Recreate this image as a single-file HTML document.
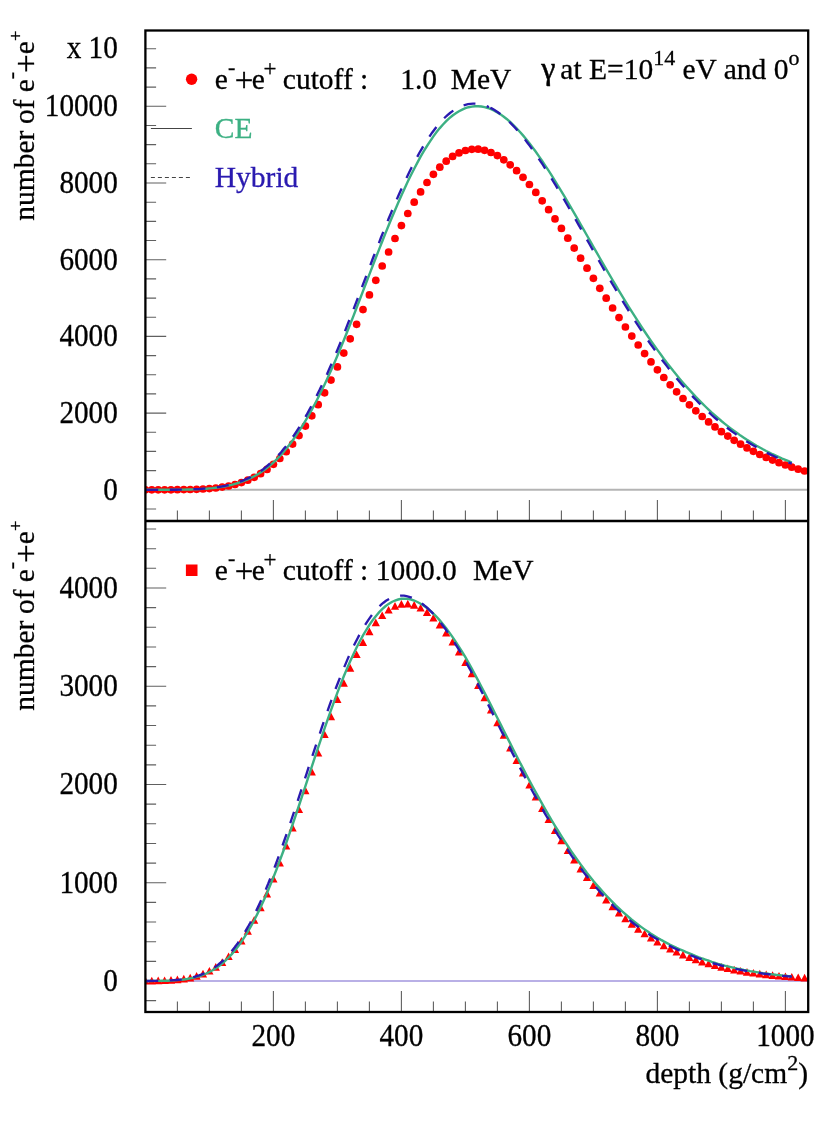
<!DOCTYPE html><html><head><meta charset="utf-8"><style>html,body{margin:0;padding:0;background:#fff}body{width:830px;height:1147px;position:relative;overflow:hidden}</style></head><body><svg width="830" height="1147" viewBox="0 0 830 1147" style="position:absolute;left:0;top:0;will-change:transform">
<rect width="830" height="1147" fill="#fff"/>
<defs><clipPath id="cu"><rect x="145.4" y="30.5" width="662.8000000000001" height="490.5"/></clipPath><clipPath id="cl"><rect x="145.4" y="521.0" width="662.8000000000001" height="491.0"/></clipPath></defs>
<line x1="145.4" x2="808.2" y1="489.8" y2="489.8" stroke="#b4b4b4" stroke-width="1.9"/>
<line x1="145.4" x2="808.2" y1="981" y2="981" stroke="#b9b0e6" stroke-width="1.9"/>
<path d="M145.4,509.0h10.7 M145.4,489.8h20.8 M145.4,470.6h10.7 M145.4,451.4h10.7 M145.4,432.3h10.7 M145.4,413.1h20.8 M145.4,393.9h10.7 M145.4,374.8h10.7 M145.4,355.6h10.7 M145.4,336.4h20.8 M145.4,317.2h10.7 M145.4,298.1h10.7 M145.4,278.9h10.7 M145.4,259.7h20.8 M145.4,240.5h10.7 M145.4,221.4h10.7 M145.4,202.2h10.7 M145.4,183.0h20.8 M145.4,163.8h10.7 M145.4,144.6h10.7 M145.4,125.5h10.7 M145.4,106.3h20.8 M145.4,87.1h10.7 M145.4,67.9h10.7 M145.4,48.8h10.7 M145.4,1000.6h10.7 M145.4,981.0h20.8 M145.4,961.4h10.7 M145.4,941.7h10.7 M145.4,922.0h10.7 M145.4,902.4h10.7 M145.4,882.8h20.8 M145.4,863.1h10.7 M145.4,843.5h10.7 M145.4,823.8h10.7 M145.4,804.1h10.7 M145.4,784.5h20.8 M145.4,764.9h10.7 M145.4,745.2h10.7 M145.4,725.5h10.7 M145.4,705.9h10.7 M145.4,686.2h20.8 M145.4,666.6h10.7 M145.4,647.0h10.7 M145.4,627.3h10.7 M145.4,607.6h10.7 M145.4,588.0h20.8 M145.4,568.3h10.7 M145.4,548.7h10.7 M145.4,529.0h10.7 M177.4,521.0v-10.5 M177.4,1012.0v-10.5 M209.4,521.0v-10.5 M209.4,1012.0v-10.5 M241.4,521.0v-10.5 M241.4,1012.0v-10.5 M273.4,521.0v-21 M273.4,1012.0v-21 M305.4,521.0v-10.5 M305.4,1012.0v-10.5 M337.4,521.0v-10.5 M337.4,1012.0v-10.5 M369.4,521.0v-10.5 M369.4,1012.0v-10.5 M401.4,521.0v-21 M401.4,1012.0v-21 M433.4,521.0v-10.5 M433.4,1012.0v-10.5 M465.4,521.0v-10.5 M465.4,1012.0v-10.5 M497.4,521.0v-10.5 M497.4,1012.0v-10.5 M529.4,521.0v-21 M529.4,1012.0v-21 M561.4,521.0v-10.5 M561.4,1012.0v-10.5 M593.4,521.0v-10.5 M593.4,1012.0v-10.5 M625.4,521.0v-10.5 M625.4,1012.0v-10.5 M657.4,521.0v-21 M657.4,1012.0v-21 M689.4,521.0v-10.5 M689.4,1012.0v-10.5 M721.4,521.0v-10.5 M721.4,1012.0v-10.5 M753.4,521.0v-10.5 M753.4,1012.0v-10.5 M785.4,521.0v-21 M785.4,1012.0v-21" stroke="#606060" stroke-width="1.1" fill="none"/>
<g fill="#ff0000" clip-path="url(#cu)"><circle cx="145.4" cy="489.8" r="3.85"/><circle cx="151.8" cy="489.8" r="3.85"/><circle cx="158.2" cy="489.8" r="3.85"/><circle cx="164.6" cy="489.8" r="3.85"/><circle cx="171.0" cy="489.8" r="3.85"/><circle cx="177.4" cy="489.7" r="3.85"/><circle cx="183.8" cy="489.6" r="3.85"/><circle cx="190.2" cy="489.5" r="3.85"/><circle cx="196.6" cy="489.3" r="3.85"/><circle cx="203.0" cy="489.0" r="3.85"/><circle cx="209.4" cy="488.6" r="3.85"/><circle cx="215.8" cy="488.0" r="3.85"/><circle cx="222.2" cy="487.1" r="3.85"/><circle cx="228.6" cy="486.0" r="3.85"/><circle cx="235.0" cy="484.5" r="3.85"/><circle cx="241.4" cy="482.6" r="3.85"/><circle cx="247.8" cy="480.2" r="3.85"/><circle cx="254.2" cy="477.3" r="3.85"/><circle cx="260.6" cy="473.7" r="3.85"/><circle cx="267.0" cy="469.4" r="3.85"/><circle cx="273.4" cy="464.3" r="3.85"/><circle cx="279.8" cy="458.5" r="3.85"/><circle cx="286.2" cy="451.7" r="3.85"/><circle cx="292.6" cy="444.1" r="3.85"/><circle cx="299.0" cy="435.6" r="3.85"/><circle cx="305.4" cy="426.1" r="3.85"/><circle cx="311.8" cy="415.8" r="3.85"/><circle cx="318.2" cy="404.7" r="3.85"/><circle cx="324.6" cy="392.8" r="3.85"/><circle cx="331.0" cy="380.1" r="3.85"/><circle cx="337.4" cy="366.9" r="3.85"/><circle cx="343.8" cy="353.1" r="3.85"/><circle cx="350.2" cy="338.8" r="3.85"/><circle cx="356.6" cy="324.3" r="3.85"/><circle cx="363.0" cy="309.6" r="3.85"/><circle cx="369.4" cy="294.9" r="3.85"/><circle cx="375.8" cy="280.3" r="3.85"/><circle cx="382.2" cy="266.0" r="3.85"/><circle cx="388.6" cy="252.0" r="3.85"/><circle cx="395.0" cy="238.5" r="3.85"/><circle cx="401.4" cy="225.6" r="3.85"/><circle cx="407.8" cy="213.5" r="3.85"/><circle cx="414.2" cy="202.2" r="3.85"/><circle cx="420.6" cy="191.9" r="3.85"/><circle cx="427.0" cy="182.5" r="3.85"/><circle cx="433.4" cy="174.3" r="3.85"/><circle cx="439.8" cy="167.2" r="3.85"/><circle cx="446.2" cy="161.2" r="3.85"/><circle cx="452.6" cy="156.4" r="3.85"/><circle cx="459.0" cy="152.9" r="3.85"/><circle cx="465.4" cy="150.5" r="3.85"/><circle cx="471.8" cy="149.3" r="3.85"/><circle cx="478.2" cy="149.2" r="3.85"/><circle cx="484.6" cy="150.3" r="3.85"/><circle cx="491.0" cy="152.5" r="3.85"/><circle cx="497.4" cy="155.6" r="3.85"/><circle cx="503.8" cy="159.8" r="3.85"/><circle cx="510.2" cy="164.8" r="3.85"/><circle cx="516.6" cy="170.7" r="3.85"/><circle cx="523.0" cy="177.3" r="3.85"/><circle cx="529.4" cy="184.5" r="3.85"/><circle cx="535.8" cy="192.4" r="3.85"/><circle cx="542.2" cy="200.8" r="3.85"/><circle cx="548.6" cy="209.7" r="3.85"/><circle cx="555.0" cy="218.9" r="3.85"/><circle cx="561.4" cy="228.4" r="3.85"/><circle cx="567.8" cy="238.2" r="3.85"/><circle cx="574.2" cy="248.1" r="3.85"/><circle cx="580.6" cy="258.2" r="3.85"/><circle cx="587.0" cy="268.2" r="3.85"/><circle cx="593.4" cy="278.3" r="3.85"/><circle cx="599.8" cy="288.3" r="3.85"/><circle cx="606.2" cy="298.2" r="3.85"/><circle cx="612.6" cy="308.0" r="3.85"/><circle cx="619.0" cy="317.6" r="3.85"/><circle cx="625.4" cy="327.0" r="3.85"/><circle cx="631.8" cy="336.1" r="3.85"/><circle cx="638.2" cy="345.0" r="3.85"/><circle cx="644.6" cy="353.6" r="3.85"/><circle cx="651.0" cy="361.9" r="3.85"/><circle cx="657.4" cy="369.8" r="3.85"/><circle cx="663.8" cy="377.5" r="3.85"/><circle cx="670.2" cy="384.8" r="3.85"/><circle cx="676.6" cy="391.8" r="3.85"/><circle cx="683.0" cy="398.5" r="3.85"/><circle cx="689.4" cy="404.8" r="3.85"/><circle cx="695.8" cy="410.8" r="3.85"/><circle cx="702.2" cy="416.5" r="3.85"/><circle cx="708.6" cy="421.9" r="3.85"/><circle cx="715.0" cy="426.9" r="3.85"/><circle cx="721.4" cy="431.7" r="3.85"/><circle cx="727.8" cy="436.1" r="3.85"/><circle cx="734.2" cy="440.3" r="3.85"/><circle cx="740.6" cy="444.2" r="3.85"/><circle cx="747.0" cy="447.9" r="3.85"/><circle cx="753.4" cy="451.3" r="3.85"/><circle cx="759.8" cy="454.5" r="3.85"/><circle cx="766.2" cy="457.4" r="3.85"/><circle cx="772.6" cy="460.1" r="3.85"/><circle cx="779.0" cy="462.7" r="3.85"/><circle cx="785.4" cy="465.0" r="3.85"/><circle cx="791.8" cy="467.2" r="3.85"/><circle cx="798.2" cy="469.2" r="3.85"/><circle cx="804.6" cy="471.0" r="3.85"/></g>
<path d="M145.4,489.8 L148.6,489.8 L151.8,489.8 L155.0,489.8 L158.2,489.8 L161.4,489.8 L164.6,489.8 L167.8,489.8 L171.0,489.7 L174.2,489.7 L177.4,489.7 L180.6,489.6 L183.8,489.6 L187.0,489.5 L190.2,489.5 L193.4,489.4 L196.6,489.2 L199.8,489.1 L203.0,488.9 L206.2,488.7 L209.4,488.4 L212.6,488.1 L215.8,487.7 L219.0,487.3 L222.2,486.7 L225.4,486.2 L228.6,485.5 L231.8,484.8 L235.0,483.9 L238.2,483.0 L241.4,481.9 L244.6,480.7 L247.8,479.4 L251.0,477.9 L254.2,476.3 L257.4,474.5 L260.6,472.6 L263.8,470.4 L267.0,467.9 L270.2,465.3 L273.4,462.5 L276.6,459.4 L279.8,456.1 L283.0,452.6 L286.2,448.8 L289.4,444.8 L292.6,440.5 L295.8,436.0 L299.0,431.2 L302.2,426.2 L305.4,420.9 L308.6,415.4 L311.8,409.7 L315.0,403.7 L318.2,397.5 L321.4,391.0 L324.6,384.4 L327.8,377.5 L331.0,370.5 L334.2,363.2 L337.4,355.8 L340.6,348.1 L343.8,340.3 L347.0,332.3 L350.2,324.2 L353.4,316.1 L356.6,307.8 L359.8,299.5 L363.0,291.1 L366.2,282.8 L369.4,274.4 L372.6,266.1 L375.8,257.8 L379.0,249.6 L382.2,241.5 L385.4,233.4 L388.6,225.5 L391.8,217.8 L395.0,210.2 L398.2,202.7 L401.4,195.5 L404.6,188.4 L407.8,181.6 L411.0,175.0 L414.2,168.7 L417.4,162.6 L420.6,156.7 L423.8,151.2 L427.0,146.0 L430.2,141.1 L433.4,136.4 L436.6,132.1 L439.8,128.1 L443.0,124.5 L446.2,121.2 L449.4,118.2 L452.6,115.5 L455.8,113.2 L459.0,111.2 L462.2,109.6 L465.4,108.2 L468.6,107.2 L471.8,106.6 L475.0,106.2 L478.2,106.2 L481.4,106.5 L484.6,107.1 L487.8,108.0 L491.0,109.2 L494.2,110.6 L497.4,112.4 L500.6,114.4 L503.8,116.7 L507.0,119.2 L510.2,122.0 L513.4,125.0 L516.6,128.3 L519.8,131.7 L523.0,135.4 L526.2,139.2 L529.4,143.3 L532.6,147.5 L535.8,151.8 L539.0,156.4 L542.2,161.0 L545.4,165.8 L548.6,170.7 L551.8,175.7 L555.0,180.9 L558.2,186.1 L561.4,191.4 L564.6,196.7 L567.8,202.2 L571.0,207.6 L574.2,213.2 L577.4,218.7 L580.6,224.3 L583.8,229.9 L587.0,235.5 L590.2,241.1 L593.4,246.8 L596.6,252.4 L599.8,258.0 L603.0,263.5 L606.2,269.1 L609.4,274.6 L612.6,280.0 L615.8,285.4 L619.0,290.8 L622.2,296.1 L625.4,301.4 L628.6,306.6 L631.8,311.7 L635.0,316.7 L638.2,321.7 L641.4,326.6 L644.6,331.5 L647.8,336.2 L651.0,340.9 L654.2,345.4 L657.4,349.9 L660.6,354.3 L663.8,358.7 L667.0,362.9 L670.2,367.0 L673.4,371.1 L676.6,375.0 L679.8,378.9 L683.0,382.7 L686.2,386.4 L689.4,389.9 L692.6,393.4 L695.8,396.9 L699.0,400.2 L702.2,403.4 L705.4,406.5 L708.6,409.6 L711.8,412.6 L715.0,415.4 L718.2,418.2 L721.4,421.0 L724.6,423.6 L727.8,426.1 L731.0,428.6 L734.2,431.0 L737.4,433.3 L740.6,435.6 L743.8,437.7 L747.0,439.8 L750.2,441.8 L753.4,443.8 L756.6,445.7 L759.8,447.5 L763.0,449.3 L766.2,451.0 L769.4,452.6 L772.6,454.2 L775.8,455.7 L779.0,457.2 L782.2,458.6 L785.4,459.9 L788.6,461.2 L791.8,462.5" stroke="#3cb083" stroke-width="2.4" fill="none"/>
<path d="M145.4,489.8 L148.0,489.8 L150.5,489.8 L153.1,489.8 L155.6,489.8 L158.2,489.8 L160.8,489.8 L163.3,489.8 L165.9,489.8 L168.4,489.7 L171.0,489.7 L173.6,489.7 L176.1,489.7 L178.7,489.6 L181.2,489.6 L183.8,489.6 L186.4,489.5 L188.9,489.4 L191.5,489.3 L194.0,489.2 L196.6,489.1 L199.2,489.0 L201.7,488.8 L204.3,488.6 L206.8,488.4 L209.4,488.2 L212.0,487.9 L214.5,487.6 L217.1,487.2 L219.6,486.8 L222.2,486.4 L224.8,485.9 L227.3,485.3 L229.9,484.7 L232.4,484.0 L235.0,483.3 L237.6,482.5 L240.1,481.6 L242.7,480.6 L245.2,479.5 L247.8,478.4 L250.4,477.1 L252.9,475.8 L255.5,474.3 L258.0,472.8 L260.6,471.1 L263.2,469.2 L265.7,467.2 L268.3,465.0 L270.8,462.8 L273.4,460.3 L276.0,457.8 L278.5,455.1 L281.1,452.2 L283.6,449.1 L286.2,446.0 L288.8,442.6 L291.3,439.1 L293.9,435.4 L296.4,431.6 L299.0,427.6 L301.6,423.5 L304.1,419.2 L306.7,414.7 L309.2,410.1 L311.8,405.3 L314.4,400.4 L316.9,395.3 L319.5,390.1 L322.0,384.8 L324.6,379.3 L327.2,373.7 L329.7,367.9 L332.3,362.1 L334.8,356.1 L337.4,350.0 L340.0,343.7 L342.5,337.4 L345.1,330.9 L347.6,324.4 L350.2,317.9 L352.8,311.2 L355.3,304.6 L357.9,297.9 L360.4,291.2 L363.0,284.4 L365.6,277.7 L368.1,270.9 L370.7,264.2 L373.2,257.5 L375.8,250.9 L378.4,244.4 L380.9,237.8 L383.5,231.4 L386.0,225.0 L388.6,218.8 L391.2,212.6 L393.7,206.5 L396.3,200.5 L398.8,194.7 L401.4,189.0 L404.0,183.4 L406.5,177.9 L409.1,172.6 L411.6,167.5 L414.2,162.6 L416.8,157.7 L419.3,153.0 L421.9,148.6 L424.4,144.3 L427.0,140.2 L429.6,136.3 L432.1,132.7 L434.7,129.2 L437.2,125.9 L439.8,122.9 L442.4,120.1 L444.9,117.5 L447.5,115.1 L450.0,113.0 L452.6,111.1 L455.2,109.4 L457.7,107.9 L460.3,106.6 L462.8,105.6 L465.4,104.8 L468.0,104.2 L470.5,103.8 L473.1,103.6 L475.6,103.7 L478.2,103.9 L480.8,104.3 L483.3,105.0 L485.9,105.8 L488.4,106.9 L489.0,107.1" stroke="#2a1ab0" stroke-width="2.35" fill="none" stroke-dasharray="12,11.6" stroke-dashoffset="-0.8"/>
<path d="M489.0,107.1 L491.6,108.4 L494.1,109.8 L496.7,111.5 L499.3,113.3 L501.8,115.2 L504.4,117.4 L506.9,119.6 L509.5,122.0 L512.1,124.6 L514.6,127.3 L517.2,130.1 L519.7,133.1 L522.3,136.2 L524.9,139.4 L527.4,142.7 L530.0,146.1 L532.5,149.7 L535.1,153.3 L537.7,157.0 L540.2,160.8 L542.8,164.7 L545.3,168.7 L547.9,172.7 L550.5,176.8 L553.0,181.0 L555.6,185.2 L558.1,189.5 L560.7,193.8 L563.3,198.1 L565.8,202.5 L568.4,207.0 L570.9,211.4 L573.5,215.9 L576.1,220.4 L578.6,224.9 L581.2,229.4 L583.7,233.9 L586.3,238.5 L588.9,243.0 L591.4,247.5 L594.0,252.0 L596.5,256.5 L599.1,261.0 L601.7,265.5 L604.2,269.9 L606.8,274.3 L609.3,278.7 L611.9,283.1 L614.5,287.4 L617.0,291.7 L619.6,296.0 L622.1,300.2 L624.7,304.4 L627.3,308.5 L629.8,312.6 L632.4,316.7 L634.9,320.7 L637.5,324.7 L640.1,328.6 L642.6,332.4 L645.2,336.2 L647.7,340.0 L650.3,343.7 L652.9,347.3 L655.4,350.9 L658.0,354.4 L660.5,357.9 L663.1,361.3 L665.7,364.6 L668.2,367.9 L670.8,371.2 L673.3,374.3 L675.9,377.5 L678.5,380.5 L681.0,383.5 L683.6,386.5 L686.1,389.3 L688.7,392.2 L691.3,394.9 L693.8,397.6 L696.4,400.3 L698.9,402.9 L701.5,405.4 L704.1,407.9 L706.6,410.3 L709.2,412.7 L711.7,415.0 L714.3,417.3 L716.9,419.5 L719.4,421.6 L722.0,423.7 L724.5,425.8 L727.1,427.8 L729.7,429.7 L732.2,431.6 L734.8,433.4 L737.3,435.2 L739.9,437.0 L742.5,438.7 L745.0,440.4 L747.6,442.0 L750.1,443.5 L752.7,445.1 L755.3,446.5 L757.8,448.0 L760.4,449.4 L762.9,450.7 L765.5,452.1 L768.1,453.4 L770.6,454.6 L773.2,455.8 L775.7,457.0 L778.3,458.1 L780.9,459.2 L783.4,460.3 L786.0,461.3 L788.5,462.3 L791.1,463.3 L791.8,463.6" stroke="#2a1ab0" stroke-width="2.35" fill="none" stroke-dasharray="12,11.6" stroke-dashoffset="-1.5"/>
<path d="M141.3,984.5h8.2l-4.1,-7.7z M147.7,984.4h8.2l-4.1,-7.7z M154.1,984.3h8.2l-4.1,-7.7z M160.5,984.1h8.2l-4.1,-7.7z M166.9,983.8h8.2l-4.1,-7.7z M173.3,983.3h8.2l-4.1,-7.7z M179.7,982.5h8.2l-4.1,-7.7z M186.1,981.4h8.2l-4.1,-7.7z M192.5,979.7h8.2l-4.1,-7.7z M198.9,977.5h8.2l-4.1,-7.7z M205.3,974.6h8.2l-4.1,-7.7z M211.7,970.8h8.2l-4.1,-7.7z M218.1,966.0h8.2l-4.1,-7.7z M224.5,960.1h8.2l-4.1,-7.7z M230.9,953.0h8.2l-4.1,-7.7z M237.3,944.6h8.2l-4.1,-7.7z M243.7,934.8h8.2l-4.1,-7.7z M250.1,923.7h8.2l-4.1,-7.7z M256.5,911.3h8.2l-4.1,-7.7z M262.9,897.5h8.2l-4.1,-7.7z M269.3,882.5h8.2l-4.1,-7.7z M275.7,866.4h8.2l-4.1,-7.7z M282.1,849.4h8.2l-4.1,-7.7z M288.5,831.5h8.2l-4.1,-7.7z M294.9,813.1h8.2l-4.1,-7.7z M301.3,794.3h8.2l-4.1,-7.7z M307.7,775.4h8.2l-4.1,-7.7z M314.1,756.6h8.2l-4.1,-7.7z M320.5,738.1h8.2l-4.1,-7.7z M326.9,720.2h8.2l-4.1,-7.7z M333.3,703.0h8.2l-4.1,-7.7z M339.7,686.8h8.2l-4.1,-7.7z M346.1,671.8h8.2l-4.1,-7.7z M352.5,658.1h8.2l-4.1,-7.7z M358.9,645.9h8.2l-4.1,-7.7z M365.3,635.3h8.2l-4.1,-7.7z M371.7,626.3h8.2l-4.1,-7.7z M378.1,619.1h8.2l-4.1,-7.7z M384.5,613.6h8.2l-4.1,-7.7z M390.9,609.8h8.2l-4.1,-7.7z M397.3,607.8h8.2l-4.1,-7.7z M403.7,607.5h8.2l-4.1,-7.7z M410.1,608.7h8.2l-4.1,-7.7z M416.5,611.6h8.2l-4.1,-7.7z M422.9,615.9h8.2l-4.1,-7.7z M429.3,621.6h8.2l-4.1,-7.7z M435.7,628.5h8.2l-4.1,-7.7z M442.1,636.5h8.2l-4.1,-7.7z M448.5,645.5h8.2l-4.1,-7.7z M454.9,655.4h8.2l-4.1,-7.7z M461.3,666.0h8.2l-4.1,-7.7z M467.7,677.3h8.2l-4.1,-7.7z M474.1,689.1h8.2l-4.1,-7.7z M480.5,701.2h8.2l-4.1,-7.7z M486.9,713.6h8.2l-4.1,-7.7z M493.3,726.2h8.2l-4.1,-7.7z M499.7,738.8h8.2l-4.1,-7.7z M506.1,751.5h8.2l-4.1,-7.7z M512.5,764.0h8.2l-4.1,-7.7z M518.9,776.4h8.2l-4.1,-7.7z M525.3,788.6h8.2l-4.1,-7.7z M531.7,800.4h8.2l-4.1,-7.7z M538.1,811.9h8.2l-4.1,-7.7z M544.5,823.1h8.2l-4.1,-7.7z M550.9,833.9h8.2l-4.1,-7.7z M557.3,844.2h8.2l-4.1,-7.7z M563.7,854.1h8.2l-4.1,-7.7z M570.1,863.5h8.2l-4.1,-7.7z M576.5,872.5h8.2l-4.1,-7.7z M582.9,881.0h8.2l-4.1,-7.7z M589.3,889.0h8.2l-4.1,-7.7z M595.7,896.5h8.2l-4.1,-7.7z M602.1,903.6h8.2l-4.1,-7.7z M608.5,910.3h8.2l-4.1,-7.7z M614.9,916.5h8.2l-4.1,-7.7z M621.3,922.3h8.2l-4.1,-7.7z M627.7,927.7h8.2l-4.1,-7.7z M634.1,932.7h8.2l-4.1,-7.7z M640.5,937.3h8.2l-4.1,-7.7z M646.9,941.6h8.2l-4.1,-7.7z M653.3,945.5h8.2l-4.1,-7.7z M659.7,949.2h8.2l-4.1,-7.7z M666.1,952.5h8.2l-4.1,-7.7z M672.5,955.6h8.2l-4.1,-7.7z M678.9,958.4h8.2l-4.1,-7.7z M685.3,960.9h8.2l-4.1,-7.7z M691.7,963.3h8.2l-4.1,-7.7z M698.1,965.4h8.2l-4.1,-7.7z M704.5,967.3h8.2l-4.1,-7.7z M710.9,969.1h8.2l-4.1,-7.7z M717.3,970.7h8.2l-4.1,-7.7z M723.7,972.1h8.2l-4.1,-7.7z M730.1,973.4h8.2l-4.1,-7.7z M736.5,974.6h8.2l-4.1,-7.7z M742.9,975.7h8.2l-4.1,-7.7z M749.3,976.6h8.2l-4.1,-7.7z M755.7,977.5h8.2l-4.1,-7.7z M762.1,978.3h8.2l-4.1,-7.7z M768.5,978.9h8.2l-4.1,-7.7z M774.9,979.6h8.2l-4.1,-7.7z M781.3,980.1h8.2l-4.1,-7.7z M787.7,980.6h8.2l-4.1,-7.7z M794.1,981.1h8.2l-4.1,-7.7z M800.5,981.5h8.2l-4.1,-7.7z" fill="#ff0000" clip-path="url(#cl)"/>
<path d="M145.4,981.0 L148.6,981.0 L151.8,981.0 L155.0,980.9 L158.2,980.9 L161.4,980.8 L164.6,980.8 L167.8,980.7 L171.0,980.5 L174.2,980.3 L177.4,980.1 L180.6,979.8 L183.8,979.5 L187.0,979.0 L190.2,978.4 L193.4,977.8 L196.6,976.9 L199.8,976.0 L203.0,974.9 L206.2,973.5 L209.4,972.0 L212.6,970.3 L215.8,968.3 L219.0,966.0 L222.2,963.5 L225.4,960.7 L228.6,957.5 L231.8,954.1 L235.0,950.3 L238.2,946.2 L241.4,941.7 L244.6,936.9 L247.8,931.7 L251.0,926.1 L254.2,920.2 L257.4,913.9 L260.6,907.3 L263.8,900.3 L267.0,893.0 L270.2,885.3 L273.4,877.4 L276.6,869.2 L279.8,860.7 L283.0,852.0 L286.2,843.0 L289.4,833.9 L292.6,824.5 L295.8,815.1 L299.0,805.5 L302.2,795.8 L305.4,786.1 L308.6,776.4 L311.8,766.6 L315.0,756.9 L318.2,747.3 L321.4,737.8 L324.6,728.4 L327.8,719.1 L331.0,710.1 L334.2,701.3 L337.4,692.7 L340.6,684.4 L343.8,676.3 L347.0,668.6 L350.2,661.3 L353.4,654.2 L356.6,647.6 L359.8,641.3 L363.0,635.4 L366.2,630.0 L369.4,624.9 L372.6,620.3 L375.8,616.2 L379.0,612.4 L382.2,609.2 L385.4,606.3 L388.6,603.9 L391.8,602.0 L395.0,600.5 L398.2,599.5 L401.4,598.8 L404.6,598.7 L407.8,598.9 L411.0,599.5 L414.2,600.5 L417.4,602.0 L420.6,603.8 L423.8,605.7 L427.0,608.0 L430.2,610.6 L433.4,613.6 L436.6,616.8 L439.8,620.4 L443.0,624.2 L446.2,628.3 L449.4,632.6 L452.6,637.1 L455.8,641.9 L459.0,646.8 L462.2,652.0 L465.4,657.2 L468.6,662.9 L471.8,668.7 L475.0,674.6 L478.2,680.6 L481.4,686.7 L484.6,692.9 L487.8,699.1 L491.0,705.4 L494.2,711.7 L497.4,718.0 L500.6,724.4 L503.8,730.8 L507.0,737.1 L510.2,743.4 L513.4,749.7 L516.6,756.0 L519.8,762.2 L523.0,768.4 L526.2,774.5 L529.4,780.6 L532.6,786.5 L535.8,792.4 L539.0,798.2 L542.2,803.9 L545.4,809.6 L548.6,815.1 L551.8,820.5 L555.0,825.8 L558.2,831.0 L561.4,836.1 L564.6,841.1 L567.8,846.0 L571.0,850.8 L574.2,855.4 L577.4,860.0 L580.6,864.4 L583.8,868.7 L587.0,872.9 L590.2,876.9 L593.4,880.9 L596.6,884.7 L599.8,888.4 L603.0,892.0 L606.2,895.5 L609.4,898.9 L612.6,902.2 L615.8,905.4 L619.0,908.4 L622.2,911.4 L625.4,914.2 L628.6,917.0 L631.8,919.7 L635.0,922.2 L638.2,924.7 L641.4,927.1 L644.6,929.4 L647.8,931.6 L651.0,933.7 L654.2,935.7 L657.4,937.7 L660.6,939.6 L663.8,941.4 L667.0,943.1 L670.2,944.8 L673.4,946.3 L676.6,947.9 L679.8,949.3 L683.0,950.7 L686.2,952.1 L689.4,953.3 L692.6,954.7 L695.8,956.0 L699.0,957.3 L702.2,958.5 L705.4,959.6 L708.6,960.7 L711.8,961.8 L715.0,962.8 L718.2,963.8 L721.4,964.7 L724.6,965.6 L727.8,966.4 L731.0,967.1 L734.2,967.9 L737.4,968.6 L740.6,969.2 L743.8,969.9 L747.0,970.5 L750.2,971.1 L753.4,971.6 L756.6,972.1 L759.8,972.6 L763.0,973.1 L766.2,973.5 L769.4,974.0 L772.6,974.4 L775.8,974.8 L779.0,975.1 L782.2,975.5 L785.4,975.8 L788.6,976.1 L791.8,976.4" stroke="#3cb083" stroke-width="2.4" fill="none"/>
<path d="M145.4,981.0 L148.0,981.0 L150.5,980.9 L153.1,980.9 L155.6,980.9 L158.2,980.9 L160.8,980.8 L163.3,980.7 L165.9,980.6 L168.4,980.5 L171.0,980.4 L173.6,980.2 L176.1,980.0 L178.7,979.8 L181.2,979.5 L183.8,979.1 L186.4,978.7 L188.9,978.2 L191.5,977.6 L194.0,977.0 L196.6,976.2 L199.2,975.3 L201.7,974.4 L204.3,973.3 L206.8,972.0 L209.4,970.7 L212.0,969.1 L214.5,967.4 L217.1,965.6 L219.6,963.5 L222.2,961.3 L224.8,958.8 L227.3,956.2 L229.9,953.4 L232.4,950.3 L235.0,947.0 L237.6,943.5 L240.1,939.8 L242.7,935.8 L245.2,931.6 L247.8,927.2 L250.4,922.5 L252.9,917.6 L255.5,912.4 L258.0,907.1 L260.6,901.5 L263.2,895.7 L265.7,889.7 L268.3,883.5 L270.8,877.1 L273.4,870.5 L276.0,863.7 L278.5,856.8 L281.1,849.7 L283.6,842.5 L286.2,835.1 L288.8,827.6 L291.3,820.0 L293.9,812.4 L296.4,804.7 L299.0,796.9 L301.6,789.0 L304.1,781.2 L306.7,773.3 L309.2,765.5 L311.8,757.7 L314.4,749.9 L316.9,742.2 L319.5,734.5 L322.0,726.9 L324.6,719.5 L327.2,712.1 L329.7,704.9 L332.3,697.8 L334.8,690.9 L337.4,684.2 L340.0,677.6 L342.5,671.2 L345.1,665.1 L347.6,659.1 L350.2,653.4 L352.8,647.9 L355.3,642.7 L357.9,637.7 L360.4,632.9 L363.0,628.4 L365.6,624.2 L368.1,620.3 L370.7,616.6 L373.2,613.2 L375.8,610.2 L378.4,607.4 L380.9,604.9 L383.5,602.7 L386.0,600.8 L388.6,599.2 L391.2,597.9 L393.7,596.9 L396.3,596.2 L398.8,595.7 L401.4,595.6 L404.0,595.7 L406.5,596.1 L409.1,596.8 L411.6,597.7 L414.2,598.9 L416.8,600.3 L419.3,601.8 L421.9,603.5 L424.4,605.5 L424.7,605.7" stroke="#2a1ab0" stroke-width="2.35" fill="none" stroke-dasharray="12,11.6" stroke-dashoffset="-0.8"/>
<path d="M424.7,605.7 L427.3,607.9 L429.8,610.3 L432.4,612.9 L434.9,615.7 L437.5,618.7 L440.1,621.9 L442.6,625.2 L445.2,628.7 L447.7,632.3 L450.3,636.1 L452.9,640.0 L455.4,644.1 L458.0,648.2 L460.5,652.4 L463.1,656.8 L465.7,661.4 L468.2,666.1 L470.8,670.8 L473.3,675.6 L475.9,680.5 L478.5,685.5 L481.0,690.4 L483.6,695.5 L486.1,700.5 L488.7,705.6 L491.3,710.7 L493.8,715.8 L496.4,720.9 L498.9,726.1 L501.5,731.2 L504.1,736.3 L506.6,741.4 L509.2,746.5 L511.7,751.6 L514.3,756.6 L516.9,761.6 L519.4,766.6 L522.0,771.5 L524.5,776.4 L527.1,781.2 L529.7,786.0 L532.2,790.8 L534.8,795.5 L537.3,800.1 L539.9,804.7 L542.5,809.2 L545.0,813.6 L547.6,818.0 L550.1,822.3 L552.7,826.6 L555.3,830.8 L557.8,834.9 L560.4,838.9 L562.9,842.9 L565.5,846.8 L568.1,850.6 L570.6,854.3 L573.2,858.0 L575.7,861.6 L578.3,865.1 L580.9,868.5 L583.4,871.9 L586.0,875.2 L588.5,878.4 L591.1,881.6 L593.7,884.6 L596.2,887.6 L598.8,890.5 L601.3,893.4 L603.9,896.2 L606.5,898.9 L609.0,901.5 L611.6,904.1 L614.1,906.6 L616.7,909.0 L619.3,911.4 L621.8,913.7 L624.4,915.9 L626.9,918.1 L629.5,920.2 L632.1,922.2 L634.6,924.2 L637.2,926.1 L639.7,928.0 L642.3,929.8 L644.9,931.6 L647.4,933.3 L650.0,934.9 L652.5,936.5 L655.1,938.1 L657.7,939.6 L660.2,941.0 L662.8,942.4 L665.3,943.8 L667.9,945.1 L670.5,946.3 L673.0,947.6 L675.6,948.8 L678.1,949.9 L680.7,951.0 L683.3,952.1 L685.8,953.1 L688.4,954.2 L690.9,955.3 L693.5,956.3 L696.1,957.3 L698.6,958.3 L701.2,959.2 L703.7,960.1 L706.3,961.0 L708.9,961.8 L711.4,962.7 L714.0,963.5 L716.5,964.2 L719.1,964.9 L721.7,965.6 L724.2,966.2 L726.8,966.9 L729.3,967.5 L731.9,968.0 L734.5,968.6 L737.0,969.1 L739.6,969.6 L742.1,970.1 L744.7,970.6 L747.3,971.1 L749.8,971.5 L752.4,972.0 L754.9,972.4 L757.5,972.7 L760.1,973.1 L762.6,973.5 L765.2,973.8 L767.7,974.1 L770.3,974.5 L772.9,974.8 L775.4,975.1 L778.0,975.4 L780.5,975.6 L783.1,975.9 L785.7,976.1 L788.2,976.3 L790.8,976.5 L791.8,976.6" stroke="#2a1ab0" stroke-width="2.35" fill="none" stroke-dasharray="12,11.6" stroke-dashoffset="0"/>
<rect x="145.4" y="30.5" width="662.8000000000001" height="981.5" fill="none" stroke="#000" stroke-width="2.3"/>
<line x1="145.4" x2="808.2" y1="521.0" y2="521.0" stroke="#000" stroke-width="2.3"/>
<circle cx="191.6" cy="79.2" r="5.7" fill="#ff0000"/>
<rect x="185.9" y="564.5" width="11.6" height="11.5" fill="#ff0000"/>
<line x1="150.9" x2="191.9" y1="128.5" y2="128.5" stroke="#444" stroke-width="1"/>
<line x1="150.9" x2="191.9" y1="177.5" y2="177.5" stroke="#444" stroke-width="1" stroke-dasharray="4,3"/>
<g style="font-family:'Liberation Serif',serif;font-size:29.5px;fill:#000;stroke:#000;stroke-width:0.3px">
<text transform="translate(117.8,57.7) scale(0.99,1.055)" text-anchor="end">x 10</text>
<text transform="translate(117.8,499.6) scale(0.99,1.055)" text-anchor="end">0</text>
<text transform="translate(117.8,422.9) scale(0.99,1.055)" text-anchor="end">2000</text>
<text transform="translate(117.8,346.2) scale(0.99,1.055)" text-anchor="end">4000</text>
<text transform="translate(117.8,269.5) scale(0.99,1.055)" text-anchor="end">6000</text>
<text transform="translate(117.8,192.8) scale(0.99,1.055)" text-anchor="end">8000</text>
<text transform="translate(117.8,116.1) scale(0.99,1.055)" text-anchor="end">10000</text>
<text transform="translate(117.8,990.8) scale(0.99,1.055)" text-anchor="end">0</text>
<text transform="translate(117.8,892.5) scale(0.99,1.055)" text-anchor="end">1000</text>
<text transform="translate(117.8,794.3) scale(0.99,1.055)" text-anchor="end">2000</text>
<text transform="translate(117.8,696.0) scale(0.99,1.055)" text-anchor="end">3000</text>
<text transform="translate(117.8,597.8) scale(0.99,1.055)" text-anchor="end">4000</text>
<text transform="translate(273.4,1045.9) scale(0.99,1.055)" text-anchor="middle">200</text>
<text transform="translate(401.4,1045.9) scale(0.99,1.055)" text-anchor="middle">400</text>
<text transform="translate(529.4,1045.9) scale(0.99,1.055)" text-anchor="middle">600</text>
<text transform="translate(657.4,1045.9) scale(0.99,1.055)" text-anchor="middle">800</text>
<text transform="translate(785.4,1045.9) scale(0.99,1.055)" text-anchor="middle">1000</text>
<text x="214.8" y="88.5" text-anchor="start" ><tspan dy="0">e</tspan><tspan dy="-14.4" font-size="22">-</tspan><tspan dy="16.6" dx="-0.5" font-size="33">+</tspan><tspan dy="-2.2" dx="-1.5">e</tspan><tspan dy="-12.5" dx="-1.5" font-size="23">+</tspan><tspan dy="12.5" dx="-1"> cutoff :</tspan></text>
<text x="400.2" y="89.3" text-anchor="start" >1.0</text>
<text x="450.7" y="89.3" text-anchor="start" >MeV</text>
<text x="214.8" y="138" text-anchor="start" style="fill:#3cb083;stroke:#3cb083">CE</text>
<text x="214.8" y="187" text-anchor="start" style="fill:#2a1ab0;stroke:#2a1ab0">Hybrid</text>
<text x="799.5" y="79.3" text-anchor="end" ><tspan dy="0"><tspan font-size="32" stroke="#000" stroke-width="0.5">γ</tspan></tspan><tspan dy="0" dx="-2.5"> at E=10</tspan><tspan dy="-14.4" font-size="22">14</tspan><tspan dy="14.4"> eV and 0</tspan><tspan dy="-14.4" font-size="22">o</tspan></text>
<text x="214.8" y="579.5" text-anchor="start" ><tspan dy="0">e</tspan><tspan dy="-14.4" font-size="22">-</tspan><tspan dy="16.6" dx="-0.5" font-size="33">+</tspan><tspan dy="-2.2" dx="-1.5">e</tspan><tspan dy="-12.5" dx="-1.5" font-size="23">+</tspan><tspan dy="12.5" dx="-1"> cutoff : 1000.0</tspan></text>
<text x="473" y="579.5" text-anchor="start" >MeV</text>
<text x="808" y="1083" text-anchor="end" ><tspan dy="0">depth (g/cm</tspan><tspan dy="-13" font-size="22">2</tspan><tspan dy="13">)</tspan></text>
<text transform="translate(34,220.8) rotate(-90)"><tspan dy="0">number</tspan><tspan dy="0" dx="-0.8"> of </tspan><tspan dy="0" dx="-0.2">e</tspan><tspan dy="-15.6" font-size="22">-</tspan><tspan dy="18.6" dx="-1" font-size="33">+</tspan><tspan dy="-3">e</tspan><tspan dy="-12" dx="0.3" font-size="18.5">+</tspan></text>
<text transform="translate(34,710.8) rotate(-90)"><tspan dy="0">number</tspan><tspan dy="0" dx="-0.8"> of </tspan><tspan dy="0" dx="-0.2">e</tspan><tspan dy="-15.6" font-size="22">-</tspan><tspan dy="18.6" dx="-1" font-size="33">+</tspan><tspan dy="-3">e</tspan><tspan dy="-12" dx="0.3" font-size="18.5">+</tspan></text>
</g>
</svg></body></html>
